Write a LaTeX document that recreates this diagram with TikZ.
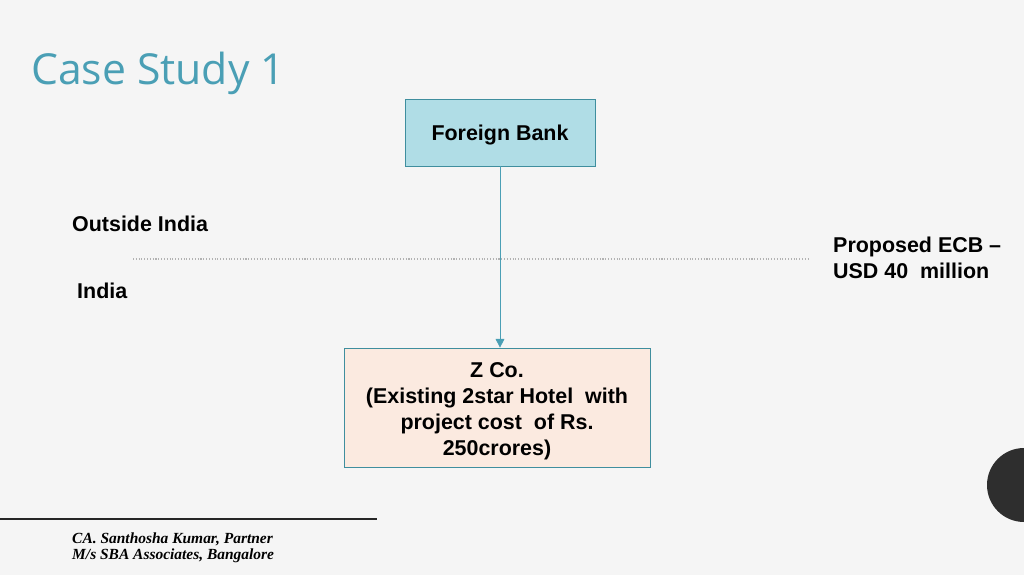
\documentclass[tikz,border=0pt]{standalone}
\usepackage{fontspec}
\setmainfont{Liberation Sans}
\newfontfamily\titlefont{Open Sans}
\newfontfamily\footfont{Liberation Serif}
\usetikzlibrary{arrows.meta,positioning}
\definecolor{SlideBg}{HTML}{F5F5F5}
\definecolor{TitleTeal}{HTML}{4A9FB5}
\definecolor{BankBlue}{HTML}{B0DDE6}
\definecolor{BoxEdge}{HTML}{3F8E9E}
\definecolor{HotelPeach}{HTML}{FBEAE0}
\tikzset{
    entity/.style = {draw=BoxEdge, rectangle, font=\bfseries\fontsize{12.2}{14.8}\selectfont, align=center},
    sidetext/.style = {font=\bfseries\fontsize{12.2}{14.8}\selectfont, anchor=west, align=left},
    flow/.style = {draw=TitleTeal, -{Triangle[length=5pt,width=5pt]}}
}
\begin{document}
\begin{tikzpicture}[x=0.02cm,y=-0.02cm]
                \fill[SlideBg] (0,0) rectangle (1024,575);
                \useasboundingbox (0,0) rectangle (1024,575);
                \node [anchor=west, text=TitleTeal, font=\titlefont\fontsize{24.3}{28}\selectfont] (title) at (25,73) {Case Study 1};
                \node [entity, fill=BankBlue, minimum width=3.8cm, minimum height=1.34cm] (bank) at (500,132.5) {};
                \node [font=\bfseries\fontsize{12.2}{14.8}\selectfont] (bankname) at (500,135) {Foreign Bank};
                \node [entity, fill=HotelPeach, minimum width=6.12cm, minimum height=2.38cm] (zco) at (497,407.5) {};
                \node [align=center, font=\bfseries\fontsize{12.2}{14.8}\selectfont] (zconame) at (497,411) {Z Co.\\(Existing 2star Hotel\ \ with\\project cost\ \ of Rs.\\250crores)};
                \coordinate (borderL) at (133,259);
                \coordinate (borderR) at (810,259);
                \draw[gray!60, densely dotted, line width=0.6pt] (borderL) -- (borderR);
                \draw[flow] (bank.south) -- (bank.south |- zco.north);
                \node [sidetext] (outside) at (66,224) {Outside India};
                \node [sidetext] (india) at (71,291) {India};
                \node [sidetext] (ecb) at (827,258) {Proposed ECB --\\USD 40\ \ million};
                \coordinate (ruleL) at (0,519);
                \coordinate (ruleR) at (377,519);
                \draw[line width=1.5pt, black!85] (ruleL) -- (ruleR);
                \node [anchor=west, align=left, font=\footfont\bfseries\itshape\fontsize{8.8}{9.3}\selectfont] (author) at (66,547.5) {CA. Santhosha Kumar, Partner\\M/s SBA Associates, Bangalore};
                \fill[black!82] (1024,485) circle (37);
            \end{tikzpicture}
\end{document}
